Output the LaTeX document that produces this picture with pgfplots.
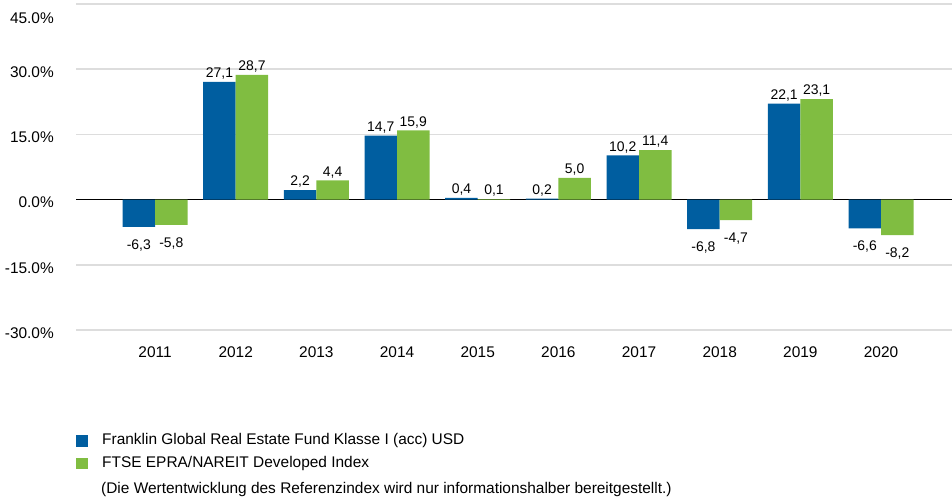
\documentclass[border=0pt]{standalone}
\usepackage{fontspec}
\setmainfont{Liberation Sans}
\usepackage{pgfplots}
\pgfplotsset{compat=1.18}
\definecolor{fblue}{RGB}{0,94,160}
\definecolor{fgreen}{RGB}{128,189,65}
\definecolor{gridgray}{RGB}{221,221,221}
\begin{document}
\begin{tikzpicture}[x=1bp,y=1bp]
\useasboundingbox (0,0) rectangle (952,502);
\begin{axis}[
  at={(76bp,172bp)}, anchor=south west,
  scale only axis, width=876bp, height=326bp,
  xmin=-0.98, xmax=9.88, ymin=-30, ymax=45,
  axis line style={draw=none},
  major tick length=0pt,
  ytick={-30,-15,0,15,30,45},
  yticklabels={-30.0\%,-15.0\%,0.0\%,15.0\%,30.0\%,\raisebox{-17bp}[0pt][0pt]{45.0\%}},
  ymajorgrids,
  grid style={gridgray, line width=1.6bp},
  extra y ticks={0},
  extra y tick labels={},
  extra y tick style={grid style={black, line width=1bp}},
  yticklabel style={anchor=east, inner sep=0pt, xshift=-22bp, yshift=-3bp, font=\fontsize{15.5}{15.5}\selectfont},
  xtick={0,...,9},
  xticklabels={2011,2012,2013,2014,2015,2016,2017,2018,2019,2020},
  xticklabel style={anchor=north, inner sep=0pt, yshift=-16.5bp, font=\fontsize{15.5}{15.5}\selectfont},
  ybar=0pt, bar width=0.403,
  nodes near coords={\pgfmathprintnumber[fixed,fixed zerofill,precision=1,use comma,assume math mode=true]{\pgfplotspointmeta}},
  every node near coord/.append style={font=\fontsize{14}{14}\selectfont, inner sep=2bp, text height=20bp, text depth=2bp, text=black},
  legend style={at={(0,-0.318)}, anchor=north west, draw=none, fill=none, inner sep=0pt,
    nodes={inner sep=0pt, anchor=west, text height=11bp, text depth=3bp, font=\fontsize{15.5}{15.5}\selectfont},
    row sep=8.5bp},
  legend cell align=left,
  legend image code/.code={\fill[#1] (0bp,-5.75bp) rectangle (11.5bp,5.75bp); \path (26bp,0bp);},
]
\addplot[fill=fblue, draw=none] coordinates {(0,-6.3) (1,27.1) (2,2.2) (3,14.7) (4,0.4) (5,0.2) (6,10.2) (7,-6.8) (8,22.1) (9,-6.6)};
\addplot[fill=fgreen, draw=none] coordinates {(0,-5.8) (1,28.7) (2,4.4) (3,15.9) (4,0.1) (5,5.0) (6,11.4) (7,-4.7) (8,23.1) (9,-8.2)};
\legend{Franklin Global Real Estate Fund Klasse I (acc) USD, FTSE EPRA/NAREIT Developed Index}
\end{axis}
\node[anchor=west, inner sep=0pt, font=\fontsize{15.5}{15.5}\selectfont] at (101,12) {(Die Wertentwicklung des Referenzindex wird nur informationshalber bereitgestellt.)};
\end{tikzpicture}
\end{document}
